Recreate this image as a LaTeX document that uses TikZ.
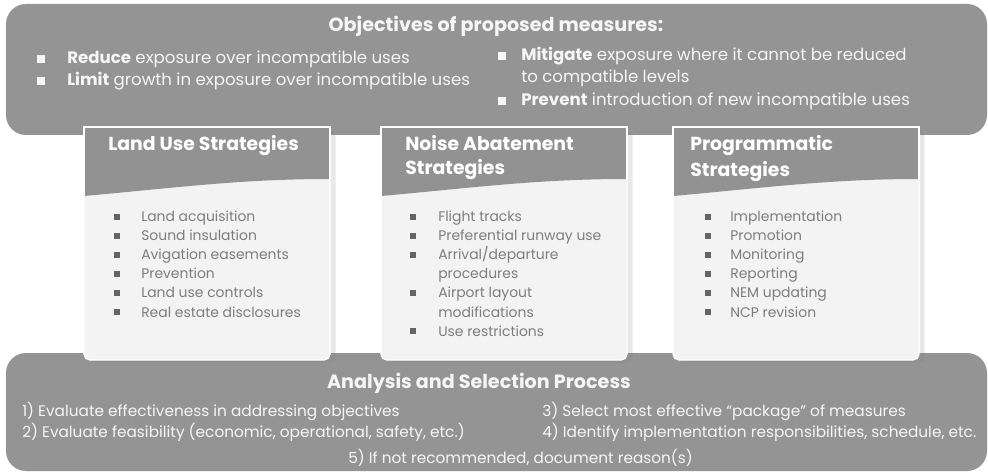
\documentclass[tikz,border=0pt]{standalone}
\usepackage{fontspec}
\setmainfont{Poppins}
\usetikzlibrary{shadows}

\definecolor{bandgray}{RGB}{148,148,148}
\definecolor{headgray}{RGB}{146,146,146}
\definecolor{cardwhite}{RGB}{243,243,243}
\definecolor{itemgray}{RGB}{125,125,125}
\definecolor{dotgray}{RGB}{100,100,100}
\definecolor{bandtext}{RGB}{246,246,246}

\tikzset{
  band/.style={fill=bandgray, rounded corners=0.5cm},
  bandhead/.style={text=bandtext, anchor=base, inner sep=0pt, font=\fontsize{13.6}{16}\selectfont\bfseries},
  bandline/.style={text=bandtext, anchor=base west, inner sep=0pt, font=\fontsize{11.8}{14}\selectfont},
  banddot/.style={fill=bandtext, minimum size=5pt, inner sep=0pt},
  cardbody/.style={fill=cardwhite, draw=white, line width=0.8pt, rounded corners=4pt,
    drop shadow={opacity=0.18, shadow xshift=4pt, shadow yshift=-2pt}},
  cardhead/.style={text=white, anchor=base west, inner sep=0pt, font=\fontsize{13.4}{16}\selectfont\bfseries},
  carditem/.style={text=itemgray, anchor=base west, inner sep=0pt, font=\fontsize{9.9}{12}\selectfont},
  carddot/.style={fill=dotgray, minimum size=4.5pt, inner sep=0pt},
  stepline/.style={text=bandtext, anchor=base west, inner sep=0pt, font=\fontsize{10.9}{13}\selectfont},
}

\begin{document}
\begin{tikzpicture}[x=0.025cm, y=-0.025cm]%
\useasboundingbox (0,0) rectangle (988,472);%
% grey bands at top and bottom
\fill[band] (6,4) rectangle (987,135);%
\fill[band] (6,353) rectangle (987,471);%
% the three cards
\foreach \cx in {84,381,673} {%
  \path[cardbody] (\cx,127) rectangle ++(246,233);%
  \fill[headgray] (\cx,127) -- ++(246,0) -- ++(0,52) .. controls +(-90,0) and +(90,-8) .. (\cx,196) -- cycle;%
  \draw[white, line width=0.8pt] (\cx,196) |- ++(246,-69) -- ++(0,52);%
}%
% objectives
\node[bandhead] (objtitle) at (496,32) {Objectives of proposed measures:};%
\node[banddot] (objdot1) at (41,59) {};%
\node[bandline] (obj1) at (67,64) {\textbf{Reduce} exposure over incompatible uses};%
\node[banddot] (objdot2) at (41,81) {};%
\node[bandline] (obj2) at (67,86) {\textbf{Limit} growth in exposure over incompatible uses};%
\node[banddot] (objdot3) at (502,56) {};%
\node[bandline] (obj3) at (521,61) {\textbf{Mitigate} exposure where it cannot be reduced};%
\node[bandline] (obj3b) at (521,83) {to compatible levels};%
\node[banddot] (objdot4) at (502,101) {};%
\node[bandline] (obj4) at (521,106) {\textbf{Prevent} introduction of new incompatible uses};%
% land use card
\node[cardhead] (landhead) at (108,151) {Land Use Strategies};%
\foreach \t [count=\i] in {Land acquisition, Sound insulation, Avigation easements, Prevention, Land use controls, Real estate disclosures} {%
  \node[carddot] (landdot\i) at (117,{198+19*\i}) {};%
  \node[carditem] (land\i) at (141,{203+19*\i}) {\t};%
}%
% noise abatement card
\node[cardhead] (noisehead) at (405,151) {Noise Abatement};%
\node[cardhead] (noisehead2) at (405,175) {Strategies};%
\node[carddot] (noisedot1) at (413,217) {};%
\node[carditem] (noise1) at (438,222) {Flight tracks};%
\node[carddot] (noisedot2) at (413,236) {};%
\node[carditem] (noise2) at (438,241) {Preferential runway use};%
\node[carddot] (noisedot3) at (413,255) {};%
\node[carditem] (noise3) at (438,260) {Arrival/departure};%
\node[carditem] (noise3b) at (438,279) {procedures};%
\node[carddot] (noisedot4) at (413,293) {};%
\node[carditem] (noise4) at (438,298) {Airport layout};%
\node[carditem] (noise4b) at (438,317) {modifications};%
\node[carddot] (noisedot5) at (413,331) {};%
\node[carditem] (noise5) at (438,336) {Use restrictions};%
% programmatic card
\node[cardhead] (proghead) at (690,151) {Programmatic};%
\node[cardhead] (proghead2) at (690,177) {Strategies};%
\foreach \t [count=\i] in {Implementation, Promotion, Monitoring, Reporting, NEM updating, NCP revision} {%
  \node[carddot] (progdot\i) at (708,{198+19*\i}) {};%
  \node[carditem] (prog\i) at (730,{203+19*\i}) {\t};%
}%
% analysis and selection
\node[bandhead] (steptitle) at (479,388) {Analysis and Selection Process};%
\node[stepline] (step1) at (22,416) {1) Evaluate effectiveness in addressing objectives};%
\node[stepline] (step2) at (22,437) {2) Evaluate feasibility (economic, operational, safety, etc.)};%
\node[stepline] (step3) at (542,416) {3) Select most effective “package” of measures};%
\node[stepline] (step4) at (542,437) {4) Identify implementation responsibilities, schedule, etc.};%
\node[stepline] (step5) at (348,463) {5) If not recommended, document reason(s)};%
\end{tikzpicture}
\end{document}
